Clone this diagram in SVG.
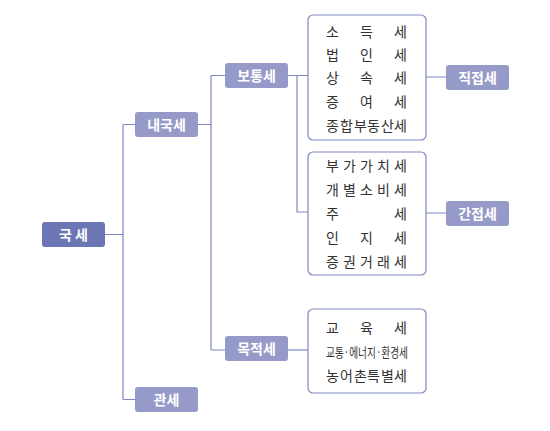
<svg xmlns="http://www.w3.org/2000/svg" width="550" height="431" viewBox="0 0 550 431">
<style>
.lbl{fill:#959ac8;}
.root{fill:#6d76b5;}
.lt{font-family:"Noto Sans CJK KR","Noto Sans",sans-serif;font-size:14px;font-weight:bold;fill:#ffffff;text-anchor:middle;}
.grp{fill:#ffffff;stroke:#7e87c3;stroke-width:1.2;}
.it{font-family:"Noto Sans CJK KR","Noto Sans",sans-serif;font-size:14px;fill:#333333;}
.con{fill:none;stroke:#7e87c3;stroke-width:1.2;}
</style>
<rect width="550" height="431" fill="#ffffff"/>
<g id="connectors">
<path class="con" d="M105 234.5H123M123 124.5V399.5M123 124.5H135M123 399.5H135"/>
<path class="con" d="M198 124.5H211M211 75.5V350M211 75.5H225M211 350H225"/>
<path class="con" d="M288 75.5H308M297 75.5V212H308"/>
<path class="con" d="M288 350H308"/>
<path class="con" d="M426 77H446M426 213H446"/>
</g>
<g id="n-gukse"><rect class="root" x="42" y="222" width="63" height="25" rx="3"/><text class="lt" x="73.5" y="239.5">국 세</text></g>
<g id="n-naegukse"><rect class="lbl" x="135" y="112" width="63" height="25" rx="3"/><text class="lt" x="166.5" y="129.5">내국세</text></g>
<g id="n-gwanse"><rect class="lbl" x="135" y="387" width="63" height="25" rx="3"/><text class="lt" x="166.5" y="404.5">관세</text></g>
<g id="n-botongse"><rect class="lbl" x="225" y="63" width="63" height="25" rx="3"/><text class="lt" x="256.5" y="80.5">보통세</text></g>
<g id="n-mokjeokse"><rect class="lbl" x="225" y="336" width="63" height="25" rx="3"/><text class="lt" x="256.5" y="353.5">목적세</text></g>
<g id="n-jikjeopse"><rect class="lbl" x="446" y="65" width="63" height="25" rx="3"/><text class="lt" x="477.5" y="82.5">직접세</text></g>
<g id="n-ganjeopse"><rect class="lbl" x="446" y="201" width="63" height="25" rx="3"/><text class="lt" x="477.5" y="218.5">간접세</text></g>
<g id="n-direct-list">
<rect class="grp" x="308" y="15" width="118" height="125" rx="5"/>
<text class="it" x="326 360 394" y="36.5">소득세</text>
<text class="it" x="326 360 394" y="60">법인세</text>
<text class="it" x="326 360 394" y="83">상속세</text>
<text class="it" x="326 360 394" y="106.5">증여세</text>
<text class="it" x="326 340 354 367 381 394" y="131">종합부동산세</text>
</g>
<g id="n-indirect-list">
<rect class="grp" x="308" y="152" width="118" height="123" rx="5"/>
<text class="it" x="326 343 360 377 394" y="171">부가가치세</text>
<text class="it" x="326 343 360 377 394" y="195">개별소비세</text>
<text class="it" x="326 394" y="218.5">주세</text>
<text class="it" x="326 360 394" y="243">인지세</text>
<text class="it" x="326 343 360 377 394" y="266.5">증권거래세</text>
</g>
<g id="n-purpose-list">
<rect class="grp" x="308" y="309" width="118" height="84" rx="5"/>
<text class="it" x="326 360 394" y="333">교육세</text>
<text class="it" x="326" y="357" style="font-size:13px" textLength="82" lengthAdjust="spacingAndGlyphs">교통·에너지·환경세</text>
<text class="it" x="326 340 354 367 381 394" y="380.5">농어촌특별세</text>
</g>
</svg>
